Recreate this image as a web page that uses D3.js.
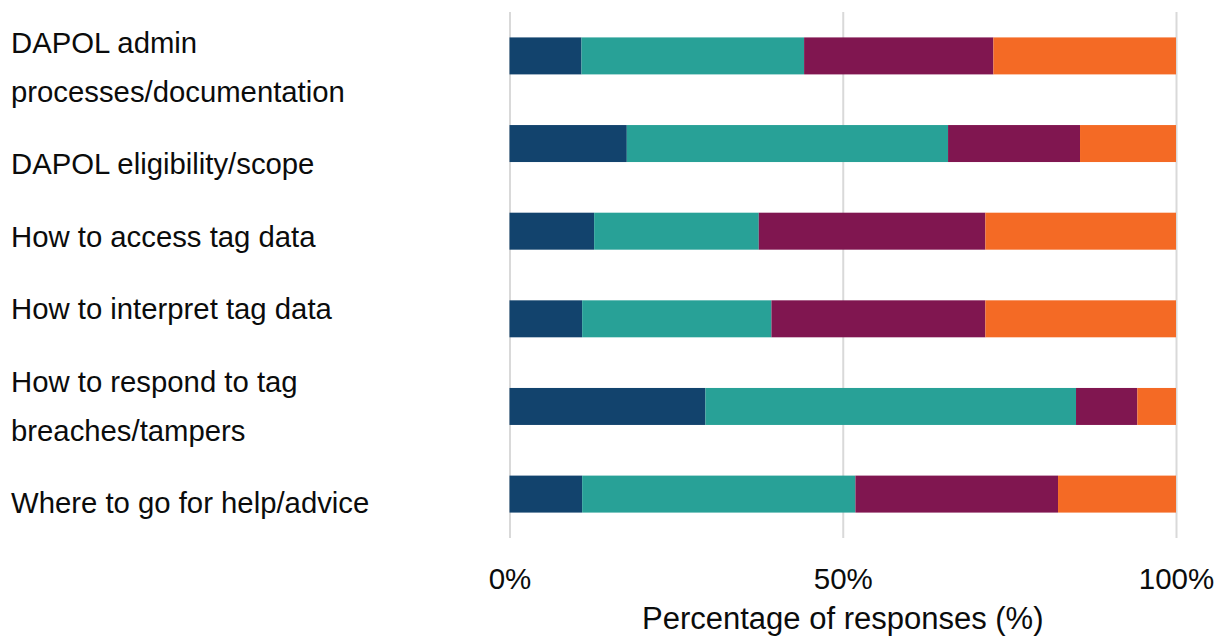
<!DOCTYPE html>
<html>
<head>
<meta charset="utf-8">
<script src="https://cdn.jsdelivr.net/npm/d3@7"></script>
<style>
  html, body { margin: 0; padding: 0; background: #fff; }
  svg { display: block; }
</style>
</head>
<body>
<svg id="chart" width="1227" height="639"></svg>
<script>
// topic labels, one entry per line of the wrapped label
const categories = [
  "DAPOL admin processes/documentation",
  "DAPOL eligibility/scope",
  "How to access tag data",
  "How to interpret tag data",
  "How to respond to tag breaches/tampers",
  "Where to go for help/advice",
];
const labelLines = [
  ["DAPOL admin", "processes/documentation"],
  ["DAPOL eligibility/scope"],
  ["How to access tag data"],
  ["How to interpret tag data"],
  ["How to respond to tag", "breaches/tampers"],
  ["Where to go for help/advice"],
];

// share of responses (%) for each of the four answer levels
const level1 = [10.8, 17.6, 12.7, 10.9, 29.4, 10.9];
const level2 = [33.4, 48.2, 24.7, 28.4, 55.6, 41.0];
const level3 = [28.4, 19.8, 34.0, 32.1, 9.2, 30.4];
const level4 = [27.4, 14.4, 28.6, 28.6, 5.8, 17.7];

const seriesKeys = ["level1", "level2", "level3", "level4"];
const tickValues = [0, 50, 100];
const axisTitle = "Percentage of responses (%)";

const settings = {
  width: 1227,
  height: 639,
  plot: { left: 509.5, right: 1176, top: 12, bottom: 538 },
  colors: ["#12436D", "#28A197", "#801650", "#F46A25"],
  font: "'Liberation Sans', Arial, sans-serif",
  fontSize: 29.3,
  tickSize: 29.5,
  titleSize: 31,
  lineHeight: 49,
  blockGap: 23.5,
};

const rows = categories.map((c, i) => ({
  category: c,
  level1: level1[i],
  level2: level2[i],
  level3: level3[i],
  level4: level4[i],
}));

const svg = d3.select("#chart");

const x = d3
  .scaleLinear()
  .domain([0, 100])
  .range([settings.plot.left, settings.plot.right]);

const y = d3
  .scaleBand()
  .domain(categories)
  .range([settings.plot.top, settings.plot.bottom])
  .paddingInner(0.578)
  .paddingOuter(0.29);

// vertical gridlines, no tick marks or domain line
const xaxis = d3
  .axisBottom(x)
  .tickValues(tickValues)
  .tickSize(settings.plot.bottom - settings.plot.top)
  .tickFormat((d) => d + "%");

svg
  .append("g")
  .attr("class", "xaxis")
  .attr("transform", `translate(0, ${settings.plot.top})`)
  .call(xaxis)
  .call((g) => g.select(".domain").remove())
  .call((g) =>
    g.selectAll(".tick line").attr("stroke", "#d9d9d9").attr("stroke-width", 2)
  )
  .call((g) =>
    g
      .selectAll(".tick text")
      .attr("y", null)
      .attr("dy", null)
      .attr("transform", `translate(0, ${589 - settings.plot.top})`)
      .attr("font-family", settings.font)
      .attr("font-size", settings.tickSize)
      .attr("fill", "#0b0c0c")
  );

const stacked = d3.stack().keys(seriesKeys)(rows);

svg
  .append("g")
  .attr("class", "bars")
  .selectAll("g")
  .data(stacked)
  .join("g")
  .attr("fill", (d, i) => settings.colors[i])
  .selectAll("rect")
  .data((d) => d)
  .join("rect")
  .attr("x", (d) => x(d[0]))
  .attr("width", (d) => x(d[1]) - x(d[0]))
  .attr("y", (d) => y(d.data.category))
  .attr("height", y.bandwidth());

// category labels stacked down the left side
const labels = svg
  .append("g")
  .attr("class", "labels")
  .attr("font-family", settings.font)
  .attr("font-size", settings.fontSize)
  .attr("fill", "#0b0c0c");

let lineNo = 0;
labelLines.forEach((lines, i) => {
  lines.forEach((line) => {
    labels
      .append("text")
      .attr("x", 11)
      .attr("y", 52.5 + lineNo * settings.lineHeight + i * settings.blockGap)
      .text(line);
    lineNo++;
  });
});

svg
  .append("text")
  .attr("class", "axis-title")
  .attr("x", (settings.plot.left + settings.plot.right) / 2)
  .attr("y", 629)
  .attr("text-anchor", "middle")
  .attr("font-family", settings.font)
  .attr("font-size", settings.titleSize)
  .attr("fill", "#0b0c0c")
  .text(axisTitle);
</script>
</body>
</html>
